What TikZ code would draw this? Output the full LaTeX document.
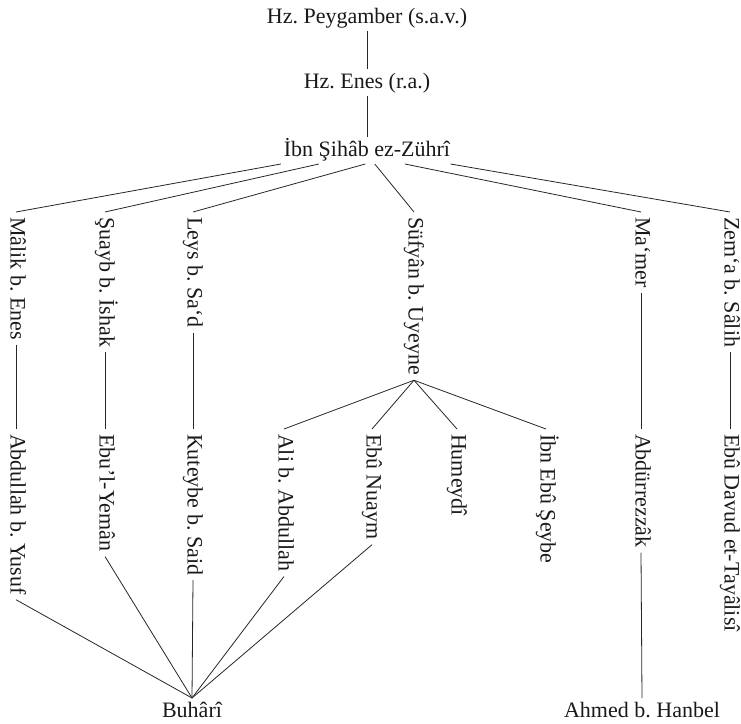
\documentclass[tikz,border=0pt]{standalone}
\usepackage{fontspec}
\setmainfont{Liberation Serif}
\usetikzlibrary{calc}
\frenchspacing
\begin{document}
\begin{tikzpicture}[x=1pt,y=-1pt,
  every node/.style={font=\fontsize{22}{26}\selectfont\frenchspacing, outer sep=0pt, text=black!90},
  hname/.style={inner sep=3pt, text height=16pt, text depth=5pt, anchor=base},
  vname/.style={rotate=-90, anchor=west, inner sep=5pt, text height=16pt, text depth=5pt},
  link/.style={draw=black!85, line width=0.8pt}]
\useasboundingbox (0,0) rectangle (741,723);
% horizontal names
\node[hname] (pey) at (367,23) {Hz. Peygamber (s.a.v.)};
\node[hname] (enes) at (367,88) {Hz. Enes (r.a.)};
\node[hname] (zuhri) at (367,156) {İbn Şihâb ez-Zührî};
\node[hname] (buhari) at (192,717) {Buhârî};
\node[hname] (hanbel) at (642,717) {Ahmed b. Hanbel};
% first row (vertical)
\node[vname] (malik) at (16,212) {Mâlik b. Enes};
\node[vname] (suayb) at (105,212) {Şuayb b. İshak};
\node[vname] (leys) at (193,212) {Leys b. Sa‘d};
\node[vname] (sufyan) at (414,212) {Süfyân b. Uyeyne};
\node[vname] (mamer) at (641,212) {Ma‘mer};
\node[vname] (zema) at (730,212) {Zem‘a b. Sâlih};
% second row (vertical)
\node[vname] (abdullah) at (16,429) {Abdullah b. Yusuf};
\node[vname] (yeman) at (105,429) {Ebu’l-Yemân};
\node[vname] (kuteybe) at (193,429) {Kuteybe b. Said};
\node[vname] (ali) at (284,429) {Ali b. Abdullah};
\node[vname] (nuaym) at (372,429) {Ebû Nuaym};
\node[vname] (humeydi) at (457,429) {Humeydî};
\node[vname] (seybe) at (546,429) {İbn Ebû Şeybe};
\node[vname] (abdurrezzak) at (641,429) {Abdürrezzâk};
\node[vname] (davud) at (730,429) {Ebû Davud et-Tayâlisî};
% connectors
\draw[link] (pey) -- (enes);
\draw[link] (enes) -- (zuhri);
\draw[link] ($(zuhri.south west)!0!(zuhri.south east)$) -- (malik.west);
\draw[link] ($(zuhri.south west)!0.22!(zuhri.south east)$) -- (suayb.west);
\draw[link] ($(zuhri.south west)!0.49!(zuhri.south east)$) -- (leys.west);
\draw[link] ($(zuhri.south west)!0.545!(zuhri.south east)$) -- (sufyan.west);
\draw[link] ($(zuhri.south west)!0.72!(zuhri.south east)$) -- (mamer.west);
\draw[link] ($(zuhri.south west)!0.985!(zuhri.south east)$) -- (zema.west);
\draw[link] (malik.east) -- (abdullah.west);
\draw[link] (suayb.east) -- (yeman.west);
\draw[link] (leys.east) -- (kuteybe.west);
\draw[link] (sufyan.east) -- (ali.west);
\draw[link] (sufyan.east) -- (nuaym.west);
\draw[link] (sufyan.east) -- (humeydi.west);
\draw[link] (sufyan.east) -- (seybe.west);
\draw[link] (mamer.east) -- (abdurrezzak.west);
\draw[link] (zema.east) -- (davud.west);
\draw[link] (abdullah.east) -- (buhari.north);
\draw[link] (yeman.east) -- (buhari.north);
\draw[link] (kuteybe.east) -- (buhari.north);
\draw[link] (ali.east) -- (buhari.north);
\draw[link] (nuaym.east) -- (buhari.north);
\draw[link] (abdurrezzak.east) -- (hanbel.north);
\end{tikzpicture}
\end{document}
